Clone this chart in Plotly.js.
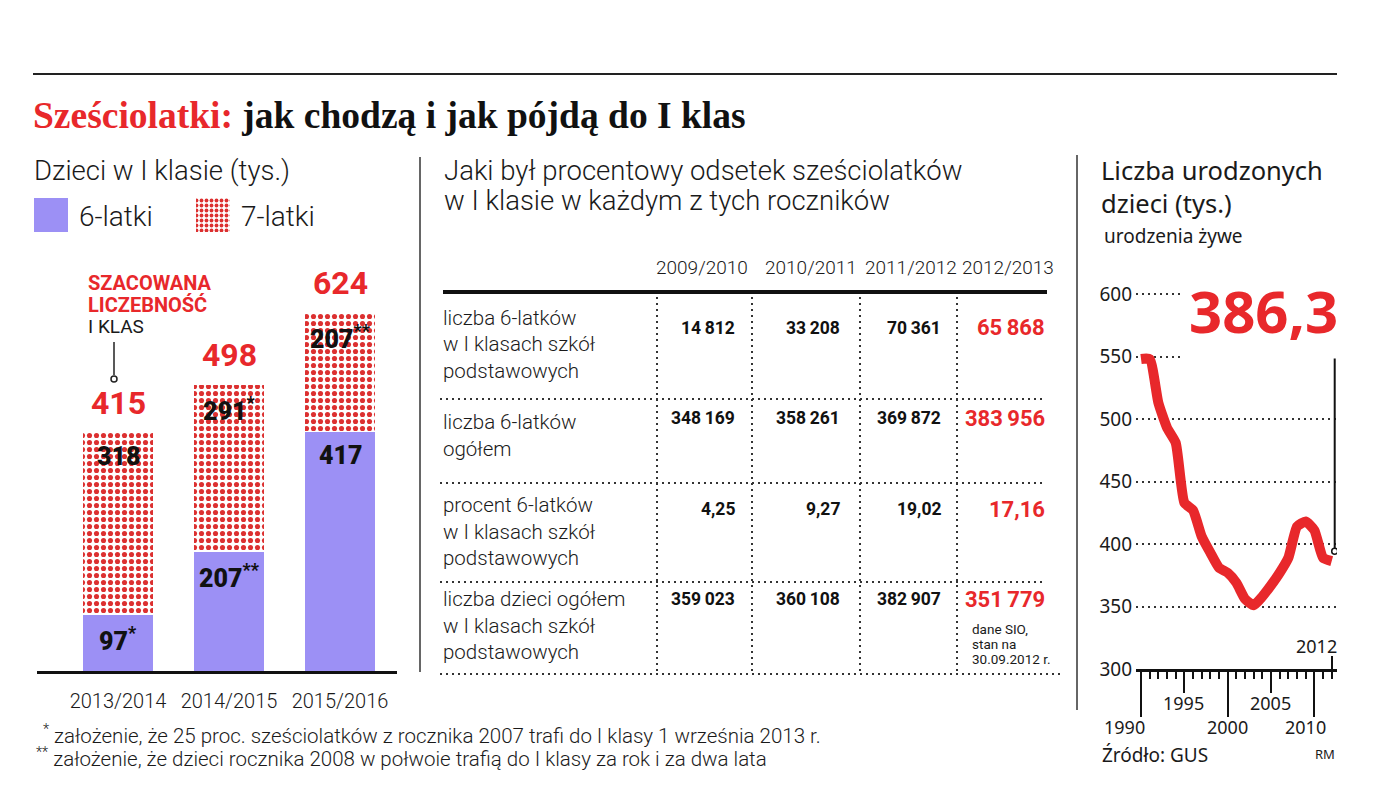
<!DOCTYPE html>
<html lang="pl">
<head>
<meta charset="utf-8">
<title>Sześciolatki: jak chodzą i jak pójdą do I klas</title>
<script src="https://cdn.plot.ly/plotly-3.0.1.min.js"></script>
<style>
  html, body { margin: 0; padding: 0; background: #fff; }
  #chart { width: 1400px; height: 812px; }
</style>
</head>
<body>
<div id="chart"></div>
<script>
// ---- Data -------------------------------------------------------------
// First-grade pupils (thousands) by school year
const schoolYears = ['2013/2014', '2014/2015', '2015/2016'];
const sixYearOlds = [97, 207, 417];
const sevenYearOlds = [318, 291, 207];
const sixMarks = ['*', '**', ''];
const sevenMarks = ['', '*', '**'];
const seriesNames = ['6-latki', '7-latki'];

// Table: six-year-olds in first grade
const tableYears = ['2009/2010', '2010/2011', '2011/2012', '2012/2013'];
const tableRowLabels = [
  ['liczba 6-latków', 'w I klasach szkół', 'podstawowych'],
  ['liczba 6-latków', 'ogółem'],
  ['procent 6-latków', 'w I klasach szkół', 'podstawowych'],
  ['liczba dzieci ogółem', 'w I klasach szkół', 'podstawowych']
];
const sixInFirstGrade = [14812, 33208, 70361, 65868];
const sixTotal = [348169, 358261, 369872, 383956];
const sixPercent = [4.25, 9.27, 19.02, 17.16];
const firstGradeTotal = [359023, 360108, 382907, 351779];
const tableNote = ['dane SIO,', 'stan na', '30.09.2012 r.'];

// Live births (thousands)
const birthYears = [1990, 1991, 1992, 1993, 1994, 1995, 1996, 1997, 1998, 1999, 2000,
                    2001, 2002, 2003, 2004, 2005, 2006, 2007, 2008, 2009, 2010, 2011, 2012];
const births = [548, 548, 513, 493, 481, 433, 427, 406, 393, 381, 377,
                369, 356, 351, 358, 367, 377, 389, 414, 418, 411, 389, 386.3];

// ---- Styling ----------------------------------------------------------
const W = 1400, H = 812;
const px = x => x / W;
const py = y => 1 - y / H;
const RED = '#e8282b';
const DOT_RED = '#dc3030';
const BLUE = '#9c90f5';
const INK = '#1a1a1a';
const SANS = 'Roboto, "Liberation Sans", sans-serif';
const HUMAN = '"Noto Sans", "Open Sans", sans-serif';
const SERIF = '"Liberation Serif", "DejaVu Serif", serif';
const DOTS = '2px,4px';

const fmtInt = n => String(n).replace(/\B(?=(\d{3})+(?!\d))/g, '\u2009');
const fmtDec = n => n.toFixed(2).replace('.', ',');
const sup = m => (m ? '<sup>' + m + '</sup>' : '');

const dotPattern = (size, solidity) => ({
  shape: '.', fgcolor: DOT_RED, bgcolor: '#fff', fgopacity: 1,
  size: size, solidity: solidity, fillmode: 'replace'
});

// ---- Traces -----------------------------------------------------------
const traces = [
  {
    type: 'bar', name: seriesNames[0], x: schoolYears, y: sixYearOlds,
    xaxis: 'x', yaxis: 'y', width: 0.63,
    marker: { color: BLUE, line: { width: 0 } }, hoverinfo: 'skip'
  },
  {
    type: 'bar', name: seriesNames[1], x: schoolYears, y: sevenYearOlds,
    xaxis: 'x', yaxis: 'y', width: 0.63,
    marker: { color: '#fff', pattern: dotPattern(7, 0.42), line: { width: 0 } }, hoverinfo: 'skip'
  },
  // legend keys
  {
    type: 'bar', x: [seriesNames[0]], y: [1], xaxis: 'x2', yaxis: 'y2', width: 0.21,
    marker: { color: BLUE, line: { width: 0 } }, hoverinfo: 'skip'
  },
  {
    type: 'bar', x: [seriesNames[1]], y: [1], xaxis: 'x2', yaxis: 'y2', width: 0.21,
    marker: { color: '#fff', pattern: dotPattern(5, 0.45), line: { width: 0 } }, hoverinfo: 'skip'
  },
  {
    type: 'scatter', mode: 'lines', x: birthYears, y: births, xaxis: 'x3', yaxis: 'y3',
    line: { color: RED, width: 10, shape: 'spline', smoothing: 0.5 },
    cliponaxis: false, hoverinfo: 'skip'
  }
];
// empty traces so the extra year-tick axes get drawn
['x4', 'x5', 'x6'].forEach(ax => traces.push({
  type: 'scatter', mode: 'markers', x: [], y: [], xaxis: ax, yaxis: 'y3', hoverinfo: 'skip'
}));

// ---- Annotations ------------------------------------------------------
const ann = [];
const text = (t, x, y, o = {}) => ann.push(Object.assign({
  text: t, x: px(x), y: py(y), xref: 'paper', yref: 'paper', showarrow: false,
  xanchor: 'left', yanchor: 'middle', align: 'left',
  font: { family: SANS, size: 20, color: INK }
}, o));
const light = size => ({ family: SANS, size: size, color: INK, weight: 300 });

// title
text('<span style="color:' + RED + '">Sześciolatki:</span> jak chodzą i jak pójdą do I klas', 31, 115,
  { font: { family: SERIF, size: 37.5, color: '#111', weight: 'bold' } });

// left panel
text('Dzieci w I klasie (tys.)', 32, 170, { font: light(27.5) });
text(seriesNames[0], 77, 217, { font: light(28) });
text(seriesNames[1], 239, 217, { font: light(28) });
text('SZACOWANA', 86, 283, { font: { family: SANS, size: 20, color: RED, weight: 'bold' } });
text('LICZEBNOŚĆ', 86, 305, { font: { family: SANS, size: 20, color: RED, weight: 'bold' } });
text('I KLAS', 86, 327, { font: { family: SANS, size: 19, color: INK } });

// bar segment values and totals, placed from the data
const heavy = size => ({ family: SANS, size: size, color: '#111', weight: 900 });
schoolYears.forEach((yr, i) => {
  const lower = sixYearOlds[i], upper = sevenYearOlds[i], total = lower + upper;
  ann.push({
    text: lower + sup(sixMarks[i]), x: i, y: lower, xref: 'x', yref: 'y',
    showarrow: false, xanchor: 'center', yanchor: 'middle', yshift: -24, font: heavy(25)
  });
  ann.push({
    text: upper + sup(sevenMarks[i]), x: i, y: total, xref: 'x', yref: 'y',
    showarrow: false, xanchor: 'center', yanchor: 'middle', yshift: -24, font: heavy(25)
  });
  ann.push({
    text: '<b>' + total + '</b>', x: i, y: total, xref: 'x', yref: 'y',
    showarrow: false, xanchor: 'center', yanchor: 'middle', yshift: 30,
    font: { family: SANS, size: 32, color: RED, weight: 'bold' }
  });
});

// middle panel
text('Jaki był procentowy odsetek sześciolatków', 442, 170, { font: light(27.5) });
text('w I klasie w każdym z tych roczników', 442, 201, { font: light(27.5) });

const colCenters = [702, 811, 911, 1008];
const colRight = [737, 842, 943, 1047];
tableYears.forEach((y, j) => text(y, colCenters[j], 267, { xanchor: 'center', font: light(19) }));

const rowLabelTop = [318, 422, 505, 599];
tableRowLabels.forEach((lines, r) => lines.forEach((t, k) =>
  text(t, 441, rowLabelTop[r] + k * 26.5, { font: light(20.5) })));

const rowValueY = [328, 418, 509, 599];
const rows = [sixInFirstGrade.map(fmtInt), sixTotal.map(fmtInt), sixPercent.map(fmtDec), firstGradeTotal.map(fmtInt)];
rows.forEach((vals, r) => vals.forEach((v, j) => {
  const last = j === vals.length - 1;
  text('<b>' + v + '</b>', colRight[j], rowValueY[r], {
    xanchor: 'right',
    font: { family: SANS, size: last ? 22 : 17.5, color: last ? RED : '#111', weight: 'bold' }
  });
}));
tableNote.forEach((t, k) => text(t, 970, 629 + k * 15, { font: { family: SANS, size: 13.5, color: INK } }));

// right panel
text('Liczba urodzonych', 1099, 170, { font: { family: HUMAN, size: 25.5, color: INK } });
text('dzieci (tys.)', 1099, 203, { font: { family: HUMAN, size: 25.5, color: INK } });
text('urodzenia żywe', 1102, 236, { font: { family: HUMAN, size: 19, color: INK } });
ann.push({
  text: '<b>' + String(births[births.length - 1]).replace('.', ',') + '</b>',
  x: px(1347), y: py(311), xref: 'paper', yref: 'paper', showarrow: false,
  xanchor: 'right', yanchor: 'middle', bgcolor: '#fff', borderpad: 8,
  font: { family: HUMAN, size: 58, color: RED, weight: 'bold' }
});
text('Źródło: GUS', 1100, 755, { font: { family: HUMAN, size: 19, color: INK } });
text('RM', 1337, 754, { xanchor: 'right', font: { family: HUMAN, size: 13, color: INK } });

// year labels under the time axis (hand-offset like the printed scale)
const yearsMajor = birthYears.filter(y => y % 10 === 0);
const yearsMid = birthYears.filter(y => y % 10 === 5);
const lastYear = birthYears[birthYears.length - 1];
const yearLabel = (yr, yPix, shift) => ann.push({
  text: String(yr), x: yr, xref: 'x3', y: py(yPix), yref: 'paper', showarrow: false,
  xanchor: 'center', yanchor: 'middle', xshift: shift,
  font: { family: HUMAN, size: 18, color: INK }
});
const majorShift = { 1990: -17, 2000: 0, 2010: -9 };
yearsMajor.forEach(yr => yearLabel(yr, 727, majorShift[yr] || 0));
yearsMid.forEach(yr => yearLabel(yr, 703, -1));
yearLabel(lastYear, 646, -15);

// footnotes
text('<sup>*</sup> założenie, że 25 proc. sześciolatków z rocznika 2007 trafi do I klasy 1 września 2013 r.', 41, 734,
  { font: light(20.5) });
text('<sup>**</sup> założenie, że dzieci rocznika 2008 w połwoie trafią do I klasy za rok i za dwa lata', 34, 757,
  { font: light(20.5) });

// ---- Shapes -----------------------------------------------------------
const shapes = [];
const pline = (x0, y0, x1, y1, o = {}) => shapes.push(Object.assign({
  type: 'line', xref: 'paper', yref: 'paper',
  x0: px(x0), y0: py(y0), x1: px(x1), y1: py(y1),
  line: { color: '#222', width: 2 }
}, o));

pline(33, 74, 1337, 74, { line: { color: '#222', width: 2 } });
pline(420, 157, 420, 672, { line: { color: '#333', width: 1.5 } });
pline(1077, 155, 1077, 710, { line: { color: '#333', width: 1.5 } });

// table rules
pline(443, 292, 1047, 292, { line: { color: '#111', width: 4 } });
[399, 483, 582].forEach(y => pline(440, y, 1044, y, { line: { color: '#333', width: 2, dash: DOTS } }));
pline(440, 674, 1060, 674, { line: { color: '#333', width: 2, dash: DOTS } });
[657, 752, 860, 957].forEach(x => pline(x, 297, x, 674, { line: { color: '#333', width: 2, dash: DOTS } }));

// pointer to the first total
pline(114, 342, 114, 375, { line: { color: '#222', width: 1.5 } });
shapes.push({ type: 'circle', xref: 'paper', yref: 'paper',
  x0: px(111), x1: px(117), y0: py(382), y1: py(376), line: { color: '#222', width: 1.5 }, fillcolor: '#fff' });

// pointer from the big value to the last birth figure
const lastBirths = births[births.length - 1];
shapes.push({ type: 'line', xref: 'x3', yref: 'y3', xsizemode: 'pixel', ysizemode: 'pixel',
  xanchor: lastYear, yanchor: lastBirths, x0: 3, x1: 3, y0: 13, y1: 218,
  line: { color: '#111', width: 2 } });
shapes.push({ type: 'circle', xref: 'x3', yref: 'y3', xsizemode: 'pixel', ysizemode: 'pixel',
  xanchor: lastYear, yanchor: lastBirths, x0: 0, x1: 6, y0: 7, y1: 13,
  line: { color: '#111', width: 1.5 }, fillcolor: '#fff' });

// ---- Axes -------------------------------------------------------------
const hidden = { visible: false, fixedrange: true };
const xRange3 = [1989.42, 2012.61];
const tickAxis = (vals, len) => ({
  overlaying: 'x3', anchor: 'y3', range: xRange3, fixedrange: true,
  tickmode: 'array', tickvals: vals, showticklabels: false,
  ticks: 'outside', ticklen: len, tickwidth: 2, tickcolor: '#111',
  showline: false, showgrid: false, zeroline: false
});

const layout = {
  width: W, height: H,
  margin: { l: 0, r: 0, t: 0, b: 0 },
  paper_bgcolor: '#fff', plot_bgcolor: 'rgba(0,0,0,0)',
  showlegend: false, barmode: 'stack',
  xaxis: {
    domain: [px(37), px(397)], anchor: 'y', type: 'category', range: [-0.73, 2.5135],
    showline: true, linewidth: 3, linecolor: '#111', ticks: '', showgrid: false, zeroline: false,
    ticklabelstandoff: 10, tickfont: light(20), fixedrange: true
  },
  yaxis: Object.assign({ domain: [py(671), py(250)], range: [0, 734], anchor: 'x' }, hidden),
  xaxis2: Object.assign({ domain: [px(34), px(230)], range: [-0.105, 1.105], type: 'category', anchor: 'y2' }, hidden),
  yaxis2: Object.assign({ domain: [py(232), py(198)], range: [0, 1], anchor: 'x2' }, hidden),
  xaxis3: {
    domain: [px(1136), px(1337)], anchor: 'y3', range: xRange3, fixedrange: true,
    tickmode: 'array', tickvals: birthYears, showticklabels: false,
    ticks: 'outside', ticklen: 7, tickwidth: 2, tickcolor: '#111',
    showline: true, linewidth: 3, linecolor: '#111', showgrid: false, zeroline: false
  },
  yaxis3: {
    domain: [py(669), py(292.75)], anchor: 'x3', range: [300, 601], fixedrange: true,
    tickmode: 'array', tickvals: [300, 350, 400, 450, 500, 550, 600],
    showgrid: true, gridcolor: '#333', gridwidth: 2, griddash: DOTS,
    showline: false, zeroline: false, ticks: '', ticklabelstandoff: 3,
    tickfont: { family: HUMAN, size: 19, color: INK }
  },
  xaxis4: tickAxis(yearsMajor, 47),
  xaxis5: tickAxis(yearsMid, 23),
  xaxis6: Object.assign(tickAxis([lastYear], 13), { side: 'top', anchor: 'free', position: py(669) }),
  annotations: ann,
  shapes: shapes
};

Plotly.newPlot('chart', traces, layout, { staticPlot: true, displayModeBar: false });
</script>
</body>
</html>
